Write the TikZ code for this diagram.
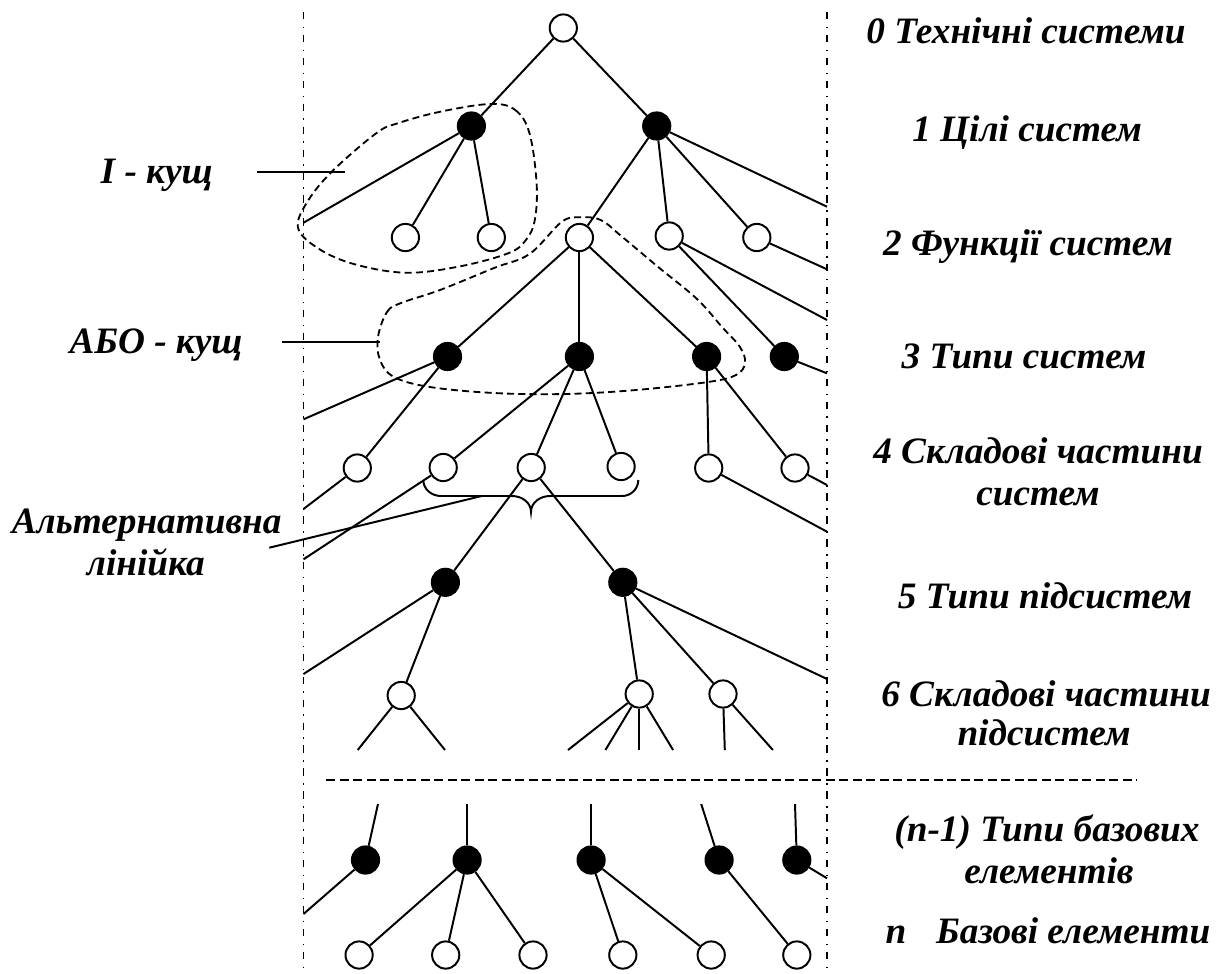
\documentclass[tikz,border=0pt]{standalone}
\usepackage{fontspec}
\setmainfont{Liberation Serif}
\begin{document}
\begin{tikzpicture}[x=0.025cm,y=-0.025cm,
  ln/.style={line width=1.4pt},
  onode/.style={circle,draw,line width=1.4pt,fill=white,minimum size=0.68cm,inner sep=0pt},
  fnode/.style={circle,draw,fill=black,line width=1.4pt,minimum size=0.68cm,inner sep=0pt},
  frame/.style={line width=1.4pt,dash pattern=on 5.2pt off 5.3pt on 1.1pt off 4.7pt},
  contour/.style={line width=1.3pt,dash pattern=on 5pt off 3pt},
  hdash/.style={line width=1.3pt,dash pattern=on 6.3pt off 3.3pt},
  lbl/.style={font=\fontsize{26.5}{29}\selectfont\bfseries\itshape,inner sep=0pt,anchor=base}]
\useasboundingbox (0,0) rectangle (1220,973);

% frame lines
\coordinate (FLt) at (303.5,12); \coordinate (FLb) at (303.5,973);
\coordinate (FRt) at (827,12); \coordinate (FRb) at (827,973);
\draw[frame] (FLt) -- (FLb);
\draw[frame] (FRt) -- (FRb);
\coordinate (HDl) at (326.3,780); \coordinate (HDr) at (1137,780);
\draw[hdash] (HDl) -- (HDr);

% contours
\draw[contour] plot[smooth cycle,tension=0.6] coordinates {
 (490.3,104) (515.2,110) (529.5,133.3) (536.6,183.3) (534.8,220) (525.9,240) (508.1,253.3)
 (458.2,266.7) (404.7,272.7) (351.3,263.3) (315.6,246.7) (297.8,226.7) (308.5,200)
 (333.5,170) (376.2,133.3) (397.6,123.3) (440.4,111.7)};
\draw[contour] plot[smooth cycle,tension=0.6] coordinates {
 (378,337) (387,312) (401,303) (440,290) (494,268) (529.5,254) (561.5,222) (579.4,217.3)
 (600.7,220) (622,236.7) (657.8,266.7) (697,299) (722,327) (740,347) (745,363) (736,375)
 (708,382) (636,390) (565,394) (494,393) (430,387) (394,377) (380,360)};

% nodes
\node[onode] (r) at (563.3,28) {};
\node[fnode] (a1) at (471.4,126) {};
\node[fnode] (a2) at (656.7,126) {};
\node[onode] (b1) at (405.4,237.5) {};
\node[onode] (b2) at (491.3,237.5) {};
\node[onode] (b3) at (579.4,237.5) {};
\node[onode] (b4) at (669.2,236) {};
\node[onode] (b5) at (756.8,237.5) {};
\node[fnode] (c1) at (447.5,356.5) {};
\node[fnode] (c2) at (579.4,356.5) {};
\node[fnode] (c3) at (706.6,356.5) {};
\node[fnode] (c4) at (784.3,356.5) {};
\node[onode] (d1) at (357.3,468) {};
\node[onode] (d2) at (443.2,467.5) {};
\node[onode] (d3) at (531.2,467.5) {};
\node[onode] (d4) at (621.1,466.5) {};
\node[onode] (d5) at (708.7,468) {};
\node[onode] (d6) at (795,468) {};
\node[fnode] (e1) at (445.4,582.3) {};
\node[fnode] (e2) at (622.8,582.3) {};
\node[onode] (f1) at (401.2,695.5) {};
\node[onode] (f2) at (639.2,694) {};
\node[onode] (f3) at (723,694) {};
\node[fnode] (g1) at (365.5,860) {};
\node[fnode] (g2) at (467.1,860) {};
\node[fnode] (g3) at (591.1,860) {};
\node[fnode] (g4) at (719.1,860) {};
\node[fnode] (g5) at (796.8,860) {};
\node[onode] (h1) at (359.1,955) {};
\node[onode] (h2) at (445.7,955) {};
\node[onode] (h3) at (533,955) {};
\node[onode] (h4) at (622.8,955) {};
\node[onode] (h5) at (711.2,955) {};
\node[onode] (h6) at (796.8,955) {};

% free ends
\coordinate (La1) at (303.5,222.7);
\coordinate (Ra2) at (827,206.7);
\coordinate (Rb4) at (827,320);
\coordinate (Rb5) at (827,269.3);
\coordinate (Lc1) at (303.5,419.3);
\coordinate (Rc4) at (827,373.3);
\coordinate (Ld1) at (303.5,509);
\coordinate (Ld2) at (303.5,559.3);
\coordinate (Rd5) at (827,531.7);
\coordinate (Rd6) at (827,485);
\coordinate (Le1) at (303.5,674);
\coordinate (Re2) at (827,679);
\coordinate (f1a) at (357.7,750); \coordinate (f1b) at (445,750);
\coordinate (f2a) at (568,750); \coordinate (f2b) at (605.4,750);
\coordinate (f2c) at (639.2,750); \coordinate (f2d) at (673.1,750);
\coordinate (f3a) at (724.8,750); \coordinate (f3b) at (772.9,750);
\coordinate (g1t) at (378,804); \coordinate (g2t) at (467.1,804);
\coordinate (g3t) at (591.1,804); \coordinate (g4t) at (701.2,804);
\coordinate (g5t) at (795,804);
\coordinate (Lg1) at (303.5,914);
\coordinate (Rg5) at (827,878.3);

% edges
\draw[ln] (r) -- (a1); \draw[ln] (r) -- (a2);
\draw[ln] (a1) -- (La1); \draw[ln] (a1) -- (b1); \draw[ln] (a1) -- (b2);
\draw[ln] (a2) -- (b3); \draw[ln] (a2) -- (b4); \draw[ln] (a2) -- (b5); \draw[ln] (a2) -- (Ra2);
\draw[ln] (b3) -- (c1); \draw[ln] (b3) -- (c2); \draw[ln] (b3) -- (c3);
\draw[ln] (b4) -- (c4); \draw[ln] (b4) -- (Rb4);
\draw[ln] (b5) -- (Rb5);
\draw[ln] (c1) -- (Lc1); \draw[ln] (c1) -- (d1);
\draw[ln] (c2) -- (d2); \draw[ln] (c2) -- (d3); \draw[ln] (c2) -- (d4);
\draw[ln] (c3) -- (d5); \draw[ln] (c3) -- (d6);
\draw[ln] (c4) -- (Rc4);
\draw[ln] (d1) -- (Ld1);
\draw[ln] (d2) -- (Ld2);
\draw[ln] (d3) -- (e1); \draw[ln] (d3) -- (e2);
\draw[ln] (d5) -- (Rd5);
\draw[ln] (d6) -- (Rd6);
\draw[ln] (e1) -- (Le1); \draw[ln] (e1) -- (f1);
\draw[ln] (e2) -- (f2); \draw[ln] (e2) -- (f3); \draw[ln] (e2) -- (Re2);
\draw[ln] (f1) -- (f1a); \draw[ln] (f1) -- (f1b);
\draw[ln] (f2) -- (f2a); \draw[ln] (f2) -- (f2b); \draw[ln] (f2) -- (f2c); \draw[ln] (f2) -- (f2d);
\draw[ln] (f3) -- (f3a); \draw[ln] (f3) -- (f3b);
\draw[ln] (g1) -- (g1t); \draw[ln] (g2) -- (g2t); \draw[ln] (g3) -- (g3t);
\draw[ln] (g4) -- (g4t); \draw[ln] (g5) -- (g5t);
\draw[ln] (g1) -- (Lg1);
\draw[ln] (g2) -- (h1); \draw[ln] (g2) -- (h2); \draw[ln] (g2) -- (h3);
\draw[ln] (g3) -- (h4); \draw[ln] (g3) -- (h5);
\draw[ln] (g4) -- (h6);
\draw[ln] (g5) -- (Rg5);

% brace
\coordinate (brL) at (423.3,480); \coordinate (brR) at (638.3,480);
\coordinate (brT) at (531,512);
\draw[ln] (brL) to[out=-90,in=180] (441,496) -- (512,496) to[out=0,in=90] (brT)
  to[out=90,in=180] (550,496) -- (622,496) to[out=0,in=-90] (brR);

% right labels
\node[lbl] (t0) at (1026,43) {0 Технічні системи};
\node[lbl] (t1) at (1027,141.7) {1 Цілі систем};
\node[lbl] (t2) at (1028,255) {2 Функції систем};
\node[lbl] (t3) at (1024,368) {3 Типи систем};
\node[lbl] (t4a) at (1038,463) {4 Складові частини};
\node[lbl] (t4b) at (1038,505) {систем};
\node[lbl] (t5) at (1045,608) {5 Типи підсистем};
\node[lbl] (t6a) at (1046,706.7) {6 Складові частини};
\node[lbl] (t6b) at (1044,745) {підсистем};
\node[lbl] (t7a) at (1047,841.7) {(n-1) Типи базових};
\node[lbl] (t7b) at (1049,883) {елементів};
\node[lbl] (t8) at (1048,943) {n\hspace{0.8em}Базові елементи};

% left labels
\node[lbl] (l1) at (156.7,183.3) {І - кущ};
\node[lbl] (l2) at (156,353.3) {АБО - кущ};
\node[lbl] (l3a) at (146.7,533.3) {Альтернативна};
\node[lbl] (l3b) at (145.8,575) {лінійка};
\coordinate (l1s) at (256.7,171.7); \coordinate (l1e) at (345,171.7);
\coordinate (l2s) at (281.7,341.7); \coordinate (l2e) at (380,341.7);
\coordinate (l3s) at (269.3,547.7); \coordinate (l3e) at (481.7,496);
\draw[ln] (l1s) -- (l1e);
\draw[ln] (l2s) -- (l2e);
\draw[ln] (l3s) -- (l3e);
\end{tikzpicture}
\end{document}
